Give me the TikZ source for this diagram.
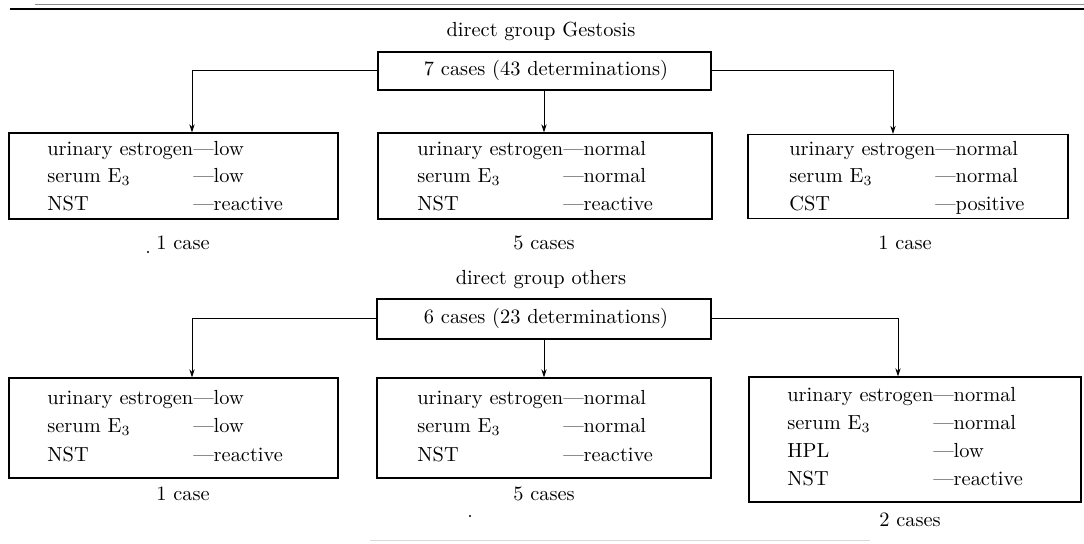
\documentclass[tikz,border=0pt]{standalone}
\usepackage{calc}
\usetikzlibrary{arrows.meta}
\newcommand\rw[2]{\makebox[\widthof{urinary estrogen}][l]{#1}---#2}
\begin{document}
\begin{tikzpicture}[x=0.5pt,y=-0.5pt,
  txt/.style={inner sep=0pt,font=\fontsize{10.2}{12}\selectfont},
  rowtxt/.style={txt,anchor=base west},
  ctxt/.style={txt,anchor=base},
  boxx/.style={draw,line width=0.6pt,inner sep=0pt},
  conn/.style={line width=0.5pt,-{Stealth[length=4pt,width=2.6pt]}},
  speck/.style={fill,circle,inner sep=0pt,minimum size=1.2pt}]
\useasboundingbox (0,0) rectangle (1084,544);
% top rules
\coordinate (r1a) at (35,5); \coordinate (r1b) at (1084,5);
\coordinate (r2a) at (10,9); \coordinate (r2b) at (1084,9);
\draw[line width=0.5pt,black!45] (r1a) -- (r1b);
\draw[line width=0.9pt] (r2a) -- (r2b);
\coordinate (r3a) at (370,541); \coordinate (r3b) at (870,541);
\draw[line width=0.5pt,black!15] (r3a) -- (r3b);
% ---------- upper group
\node[ctxt] (t1) at (541,37) {direct group Gestosis};
\node[boxx,minimum width=166.5pt,minimum height=19pt] (G) at (544.5,71) {};
\node[ctxt] (g1) at (546,76) {7 cases (43 determinations)};
\node[boxx,minimum width=164.5pt,minimum height=43pt] (A1) at (173.5,176) {};
\node[boxx,minimum width=167pt,minimum height=43pt] (A2) at (545,176) {};
\node[boxx,minimum width=160pt,minimum height=42pt] (A3) at (908,176.5) {};
\coordinate (k1) at (192,0); \coordinate (k2) at (544,0); \coordinate (k3) at (893,0);
\draw[conn] (G.west) -| (k1 |- A1.north);
\draw[conn] (k2 |- G.south) -- (k2 |- A2.north);
\draw[conn] (G.east) -| (k3 |- A3.north);
\node[rowtxt] (a11) at (47,156) {\rw{urinary estrogen}{low}};
\node[rowtxt] (a12) at (47,183) {\rw{serum E$_3$}{low}};
\node[rowtxt] (a13) at (47,211) {\rw{NST}{reactive}};
\node[rowtxt] (a21) at (417,156) {\rw{urinary estrogen}{normal}};
\node[rowtxt] (a22) at (417,183) {\rw{serum E$_3$}{normal}};
\node[rowtxt] (a23) at (417,211) {\rw{NST}{reactive}};
\node[rowtxt] (a31) at (789,156) {\rw{urinary estrogen}{normal}};
\node[rowtxt] (a32) at (789,183) {\rw{serum E$_3$}{normal}};
\node[rowtxt] (a33) at (789,211) {\rw{CST}{positive}};
\node[ctxt] (c1) at (183,250) {1 case};
\node[ctxt] (c2) at (544,250) {5 cases};
\node[ctxt] (c3) at (905,250) {1 case};
\node[speck] (s1) at (148,252) {};
% ---------- lower group
\node[ctxt] (t2) at (541,285) {direct group others};
\node[boxx,minimum width=167pt,minimum height=20pt] (H) at (544,319) {};
\node[ctxt] (h1) at (546,324) {6 cases (23 determinations)};
\node[boxx,minimum width=164.5pt,minimum height=50pt] (B1) at (173.5,428) {};
\node[boxx,minimum width=167pt,minimum height=50pt] (B2) at (544,428) {};
\node[boxx,minimum width=166pt,minimum height=62.5pt] (B3) at (915,439.5) {};
\coordinate (m1) at (192,0); \coordinate (m2) at (544,0); \coordinate (m3) at (898,0);
\draw[conn] (H.west) -| (m1 |- B1.north);
\draw[conn] (m2 |- H.south) -- (m2 |- B2.north);
\draw[conn] (H.east) -| (m3 |- B3.north);
\node[rowtxt] (b11) at (47,405) {\rw{urinary estrogen}{low}};
\node[rowtxt] (b12) at (47,433) {\rw{serum E$_3$}{low}};
\node[rowtxt] (b13) at (47,462) {\rw{NST}{reactive}};
\node[rowtxt] (b21) at (417,405) {\rw{urinary estrogen}{normal}};
\node[rowtxt] (b22) at (417,433) {\rw{serum E$_3$}{normal}};
\node[rowtxt] (b23) at (417,462) {\rw{NST}{reactive}};
\node[rowtxt] (b31) at (787,402) {\rw{urinary estrogen}{normal}};
\node[rowtxt] (b32) at (787,430) {\rw{serum E$_3$}{normal}};
\node[rowtxt] (b33) at (787,458) {\rw{HPL}{low}};
\node[rowtxt] (b34) at (787,486) {\rw{NST}{reactive}};
\node[ctxt] (d1) at (183,501) {1 case};
\node[ctxt] (d2) at (544,501) {5 cases};
\node[ctxt] (d3) at (910,527) {2 cases};
\node[speck] (s2) at (470,516) {};
\end{tikzpicture}
\end{document}
